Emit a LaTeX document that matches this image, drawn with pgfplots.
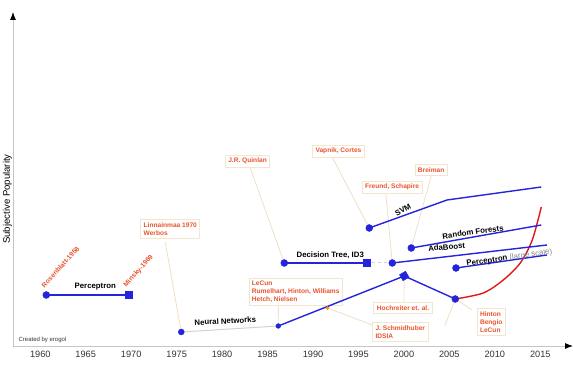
\documentclass[border=0pt]{standalone}
\usepackage{fontspec}
\setmainfont{Liberation Sans}
\usepackage{pgfplots}
\pgfplotsset{compat=1.18}
\usetikzlibrary{arrows.meta}
\definecolor{lineblue}{HTML}{2424DD}
\definecolor{curvered}{HTML}{E01818}
\definecolor{anno}{HTML}{E8552E}
\definecolor{boxc}{HTML}{F2E6CF}
\definecolor{leader}{HTML}{F0DFC6}
\tikzset{
  ann/.style={draw=boxc, line width=0.8pt, fill=white, text=anno, align=left, inner sep=3pt,
     font=\fontsize{6.6}{8}\selectfont\bfseries},
  rot/.style={text=anno, font=\fontsize{6.8}{8}\selectfont\bfseries, inner sep=1pt},
  lab/.style={font=\fontsize{7.8}{9}\selectfont\bfseries, text=black, inner sep=1pt},
  ld/.style={draw=leader, line width=0.8pt},
}
\begin{document}
\begin{tikzpicture}
\begin{axis}[
  scale only axis, width=560pt, height=334pt,
  xmin=1957, xmax=2018.6, ymin=0, ymax=334,
  axis lines=left,
  axis line style={draw=gray!45, line width=0.8pt, -{Latex[black,length=8pt,width=6pt]}},
  xtick={1960,1965,...,2015}, ytick=\empty,
  major tick length=0pt,
  xticklabel style={font=\fontsize{9.2}{10}\selectfont, text=black!80, yshift=-2pt},
  /pgf/number format/assume math mode=true,
  /pgf/number format/1000 sep={},
  ylabel={Subjective Popularity},
  ylabel style={at={(axis description cs:0,0.44)}, anchor=south, inner sep=1pt,
     font=\fontsize{9.6}{10}\selectfont},
  clip=false,
]
\coordinate (bl) at (rel axis cs:0,0);
\coordinate (tr) at (rel axis cs:1,1);
% leader lines
\draw[ld] (axis cs:1973.75,104) -- (axis cs:1975.5,14);
\draw[ld] (axis cs:1983.1,178) -- (axis cs:1986.84,83);
\draw[ld] (axis cs:1992.1,189) -- (axis cs:1996.19,118);
\draw[ld] (axis cs:1998.0,153) -- (axis cs:1998.72,83);
\draw[ld] (axis cs:2003.0,170) -- (axis cs:2000.81,98);
\draw[ld] (axis cs:1986.2,44) -- (axis cs:1986.18,20);
\draw[ld] (axis cs:1991.0,44) -- (axis cs:1991.6,38);
\draw[ld] (axis cs:1996.8,20) -- (axis cs:1991.6,38);
\draw[ld] (axis cs:2000.0,44) -- (axis cs:2000.04,70);
\draw[ld] (axis cs:2007.5,36) -- (axis cs:2005.65,47);
\draw[ld] (axis cs:2004.5,20) -- (axis cs:2005.65,47);
% annotation boxes
\node[ann] at (axis cs:1974.3,117) {Linnainmaa 1970\\Werbos};
\node[ann] at (axis cs:1982.8,185) {J.R. Quinlan};
\node[ann] at (axis cs:1992.8,195) {Vapnik, Cortes};
\node[ann] at (axis cs:1998.7,159) {Freund, Schapire};
\node[ann] at (axis cs:2003.0,176) {Breiman};
\node[ann] at (axis cs:1988.1,54) {LeCun\\Rumelhart, Hinton, Williams\\Hetch, Nielsen};
\node[ann] at (axis cs:1999.9,38) {Hochreiter et. al.};
\node[ann] at (axis cs:1999.6,14) {J. Schmidhuber\\IDSIA};
\node[ann] at (axis cs:2009.6,24) {Hinton\\Bengio\\LeCun};
\node[rot, rotate=48, anchor=south west] at (axis cs:1960.5,56) {Rosenblatt-1958};
\node[rot, rotate=48, anchor=south west] at (axis cs:1969.6,56) {Minsky-1969};
% grey connectors
\addplot[gray!35, line width=1pt] coordinates {(1975.51,14) (1986.18,20)};
\addplot[gray!35, line width=1pt, dashed] coordinates {(1995.86,83) (1998.72,83)};
% data lines
\addplot[lineblue, line width=1.4pt] coordinates {(1960.66,51) (1969.7,51)};
\addplot[lineblue, only marks, mark=*, mark size=3.5pt] coordinates {(1960.66,51)};
\addplot[lineblue, only marks, mark=square*, mark size=3.5pt] coordinates {(1969.7,51)};
\addplot[lineblue, only marks, mark=*, mark size=3pt] coordinates {(1975.51,14)};
\addplot[lineblue, line width=1.4pt] coordinates {(1986.18,20) (2000.04,70) (2005.65,47)};
\addplot[lineblue, only marks, mark=*, mark size=2.4pt] coordinates {(1986.18,20)};
\addplot[lineblue, only marks, mark=square*, mark size=3.5pt, mark options={rotate=30}] coordinates {(2000.04,70)};
\addplot[curvered, line width=1.4pt, smooth] coordinates {(2005.65,47) (2008.73,53) (2010.93,66) (2012.8,83) (2014.12,106) (2015.11,139)};
\addplot[lineblue, only marks, mark=*, mark size=3.5pt] coordinates {(2005.65,47)};
\addplot[only marks, mark=*, mark size=1.6pt, color=orange!90!yellow] coordinates {(1991.6,38)};
\addplot[lineblue, line width=1.4pt] coordinates {(1986.84,83) (1995.86,83)};
\addplot[lineblue, only marks, mark=*, mark size=3.5pt] coordinates {(1986.84,83)};
\addplot[lineblue, only marks, mark=square*, mark size=3.5pt] coordinates {(1995.86,83)};
\addplot[lineblue, line width=1.4pt] coordinates {(1998.72,83) (2015.74,101)};
\addplot[lineblue, only marks, mark=*, mark size=3.5pt] coordinates {(1998.72,83)};
\addplot[lineblue, line width=1.4pt] coordinates {(2000.81,98) (2015.11,121)};
\addplot[lineblue, only marks, mark=*, mark size=3.5pt] coordinates {(2000.81,98)};
\addplot[lineblue, line width=1.4pt] coordinates {(1996.19,118) (2004.74,146) (2015.11,159)};
\addplot[lineblue, only marks, mark=*, mark size=3.5pt] coordinates {(1996.19,118)};
\addplot[lineblue, line width=1.4pt] coordinates {(2005.73,78) (2015.74,91)};
\addplot[lineblue, only marks, mark=*, mark size=3.5pt] coordinates {(2005.73,78)};
% line labels
\node[lab] at (axis cs:1966.05,59) {Perceptron};
\node[lab, rotate=3] at (axis cs:1980.35,25) {Neural Networks};
\node[lab] at (axis cs:1991.9,91) {Decision Tree, ID3};
\node[lab, rotate=28] at (axis cs:1999.9,136) {SVM};
\node[lab, rotate=8] at (axis cs:2007.6,114) {Random Forests};
\node[lab, rotate=5] at (axis cs:2004.7,99) {AdaBoost};
\node[lab, rotate=8] at (axis cs:2011.6,88) {Perceptron {\mdseries\color{gray}(large scale)}};
\node[anchor=west, font=\fontsize{6}{7}\selectfont, text=black!80, inner sep=0pt] at (axis cs:1957.6,6) {Created by erogol};
\end{axis}
\pgfresetboundingbox
\path[use as bounding box] ([xshift=-13pt,yshift=-25pt]bl) rectangle ([yshift=12pt]tr);
\end{tikzpicture}
\end{document}
